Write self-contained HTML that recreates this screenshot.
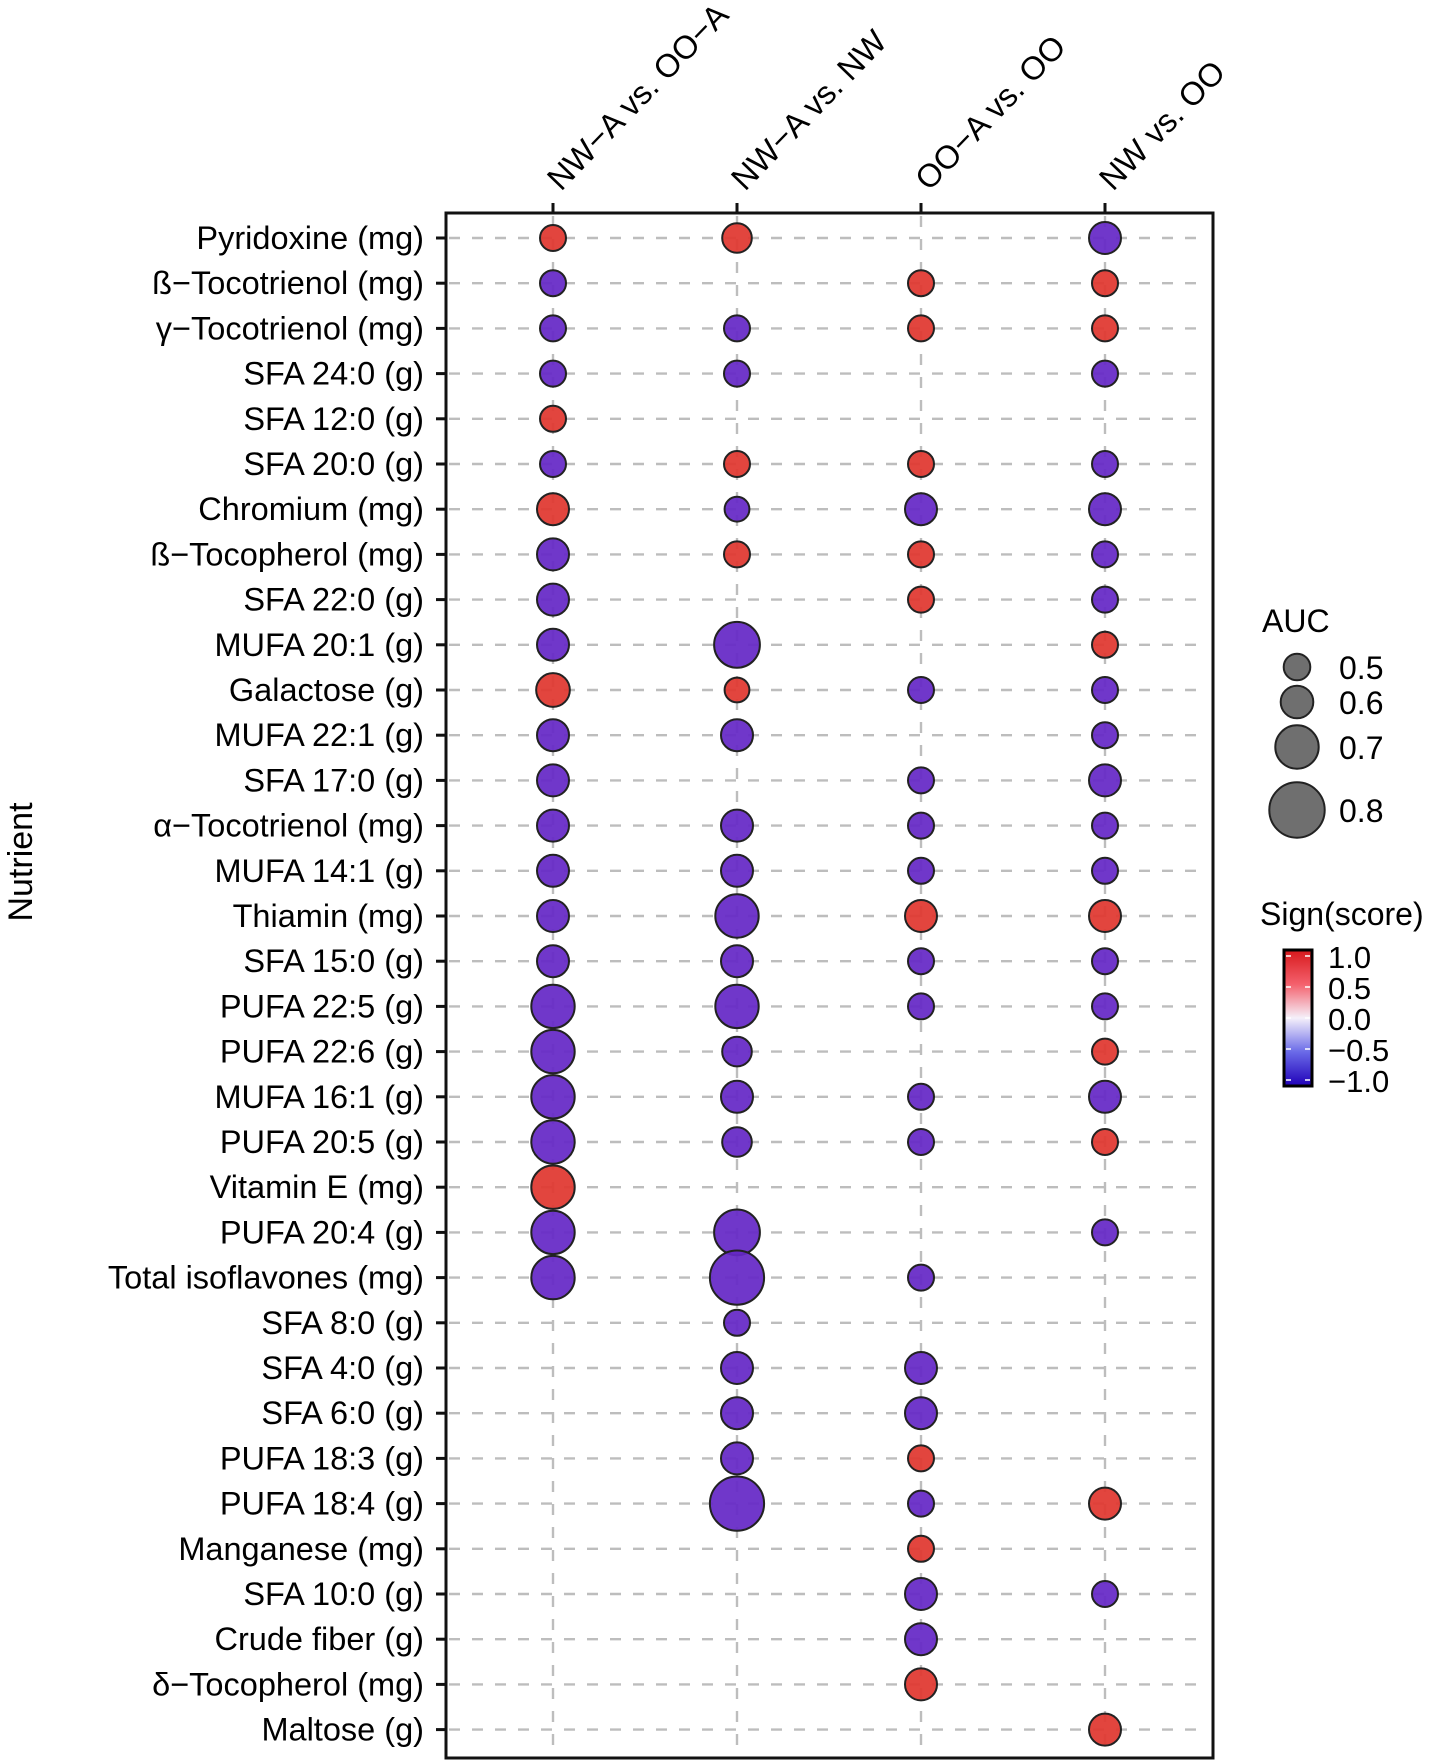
<!DOCTYPE html>
<html><head><meta charset="utf-8"><title>Nutrient AUC bubble chart</title>
<style>
html,body{margin:0;padding:0;background:#fff;}
svg{display:block;font-family:"Liberation Sans",Arial,sans-serif;}
</style></head>
<body>
<svg id="chart" width="1430" height="1764" viewBox="0 0 1430 1764" xmlns="http://www.w3.org/2000/svg">
  <g id="grid"></g>
  <g id="points"></g>
  <rect x="446" y="213" width="767" height="1545" fill="none" stroke="#111" stroke-width="3"/>
  <g id="ylabels"></g>
  <g id="xlabels"></g>
  <text transform="translate(32,862) rotate(-90)" text-anchor="middle" font-size="34" fill="#000">Nutrient</text>
  <g id="legend-auc">
    <text x="1262" y="632" font-size="32">AUC</text>
  </g>
  <g id="legend-sign">
    <defs>
      <linearGradient id="cg" x1="0" y1="0" x2="0" y2="1">
        <stop offset="0" stop-color="#d7191c"/>
        <stop offset="0.25" stop-color="#f4606c"/>
        <stop offset="0.5" stop-color="#f5f0fa"/>
        <stop offset="0.75" stop-color="#6a6ae8"/>
        <stop offset="1" stop-color="#2000b8"/>
      </linearGradient>
    </defs>
    <text x="1260" y="925" font-size="32">Sign(score)</text>
    <rect x="1284" y="950" width="28" height="136" fill="url(#cg)" stroke="#000" stroke-width="3"/>
  </g>
</svg>
<script>
const nutrients = ["Pyridoxine (mg)","ß\u2212Tocotrienol (mg)","γ\u2212Tocotrienol (mg)","SFA 24:0 (g)","SFA 12:0 (g)","SFA 20:0 (g)","Chromium (mg)","ß\u2212Tocopherol (mg)","SFA 22:0 (g)","MUFA 20:1 (g)","Galactose (g)","MUFA 22:1 (g)","SFA 17:0 (g)","α\u2212Tocotrienol (mg)","MUFA 14:1 (g)","Thiamin (mg)","SFA 15:0 (g)","PUFA 22:5 (g)","PUFA 22:6 (g)","MUFA 16:1 (g)","PUFA 20:5 (g)","Vitamin E (mg)","PUFA 20:4 (g)","Total isoflavones (mg)","SFA 8:0 (g)","SFA 4:0 (g)","SFA 6:0 (g)","PUFA 18:3 (g)","PUFA 18:4 (g)","Manganese (mg)","SFA 10:0 (g)","Crude fiber (g)","δ\u2212Tocopherol (mg)","Maltose (g)"];
const comparisons = ["NW\u2212A vs. OO\u2212A","NW\u2212A vs. NW","OO\u2212A vs. OO","NW vs. OO"];
// AUC per nutrient (null = not shown)
const aucC1 = [0.49,0.49,0.49,0.49,0.49,0.49,0.59,0.59,0.59,0.59,0.61,0.59,0.59,0.59,0.59,0.59,0.59,0.70,0.70,0.70,0.70,0.70,0.70,0.70,null,null,null,null,null,null,null,null,null,null];
const aucC2 = [0.55,null,0.49,0.49,null,0.49,0.47,0.49,null,0.72,0.47,0.59,null,0.59,0.59,0.70,0.59,0.70,0.55,0.59,0.55,null,0.72,0.79,0.49,0.59,0.59,0.59,0.79,null,null,null,null,null];
const aucC3 = [null,0.49,0.49,null,null,0.49,0.59,0.49,0.49,null,0.49,null,0.49,0.49,0.49,0.59,0.49,0.49,null,0.49,0.49,null,null,0.49,null,0.59,0.59,0.49,0.49,0.49,0.59,0.59,0.59,null];
const aucC4 = [0.59,0.49,0.49,0.49,null,0.49,0.59,0.49,0.49,0.49,0.49,0.49,0.59,0.49,0.49,0.59,0.49,0.49,0.49,0.59,0.49,null,0.49,null,null,null,null,null,0.59,null,0.49,null,null,0.59];
// sign of score (1 = positive, -1 = negative)
const signC1 = [1,-1,-1,-1,1,-1,1,-1,-1,-1,1,-1,-1,-1,-1,-1,-1,-1,-1,-1,-1,1,-1,-1,0,0,0,0,0,0,0,0,0,0];
const signC2 = [1,0,-1,-1,0,1,-1,1,0,-1,1,-1,0,-1,-1,-1,-1,-1,-1,-1,-1,0,-1,-1,-1,-1,-1,-1,-1,0,0,0,0,0];
const signC3 = [0,1,1,0,0,1,-1,1,1,0,-1,0,-1,-1,-1,1,-1,-1,0,-1,-1,0,0,-1,0,-1,-1,1,-1,1,-1,-1,1,0];
const signC4 = [-1,1,1,-1,0,-1,-1,-1,-1,1,-1,-1,-1,-1,-1,1,-1,-1,1,-1,1,0,-1,0,0,0,0,0,1,0,-1,0,0,1];
const legendAuc = [0.5,0.6,0.7,0.8];
const colorTicks = [1.0,0.5,0.0,-0.5,-1.0];
const colorTickLabels = ["1.0","0.5","0.0","\u22120.5","\u22121.0"];

const NS = "http://www.w3.org/2000/svg";
const colX0 = 553, colStep = 184;
const rowY0 = 238, rowStep = 45.2;
const xScale = i => colX0 + i * colStep;
const yScale = i => rowY0 + i * rowStep;
const sizeDom = [0.5,0.6,0.7,0.8], sizeRng = [13.3,16.3,21.7,27.7];
function rScale(a){
  if (a <= sizeDom[0]) return sizeRng[0] + (a - sizeDom[0]) * (sizeRng[1]-sizeRng[0]) / 0.1;
  for (let k = 0; k < sizeDom.length - 1; k++) {
    if (a <= sizeDom[k+1]) return sizeRng[k] + (a - sizeDom[k]) / (sizeDom[k+1]-sizeDom[k]) * (sizeRng[k+1]-sizeRng[k]);
  }
  return sizeRng[3] + (a - 0.8) * 60;
}
const colorFor = s => s > 0 ? "#e0372f" : "#6528c6";
const cbTop = 956, cbBot = 1080;
const cbScale = v => cbTop + (1 - v) / 2 * (cbBot - cbTop);

function mk(tag, attrs, parent){
  const e = document.createElementNS(NS, tag);
  for (const k in attrs) e.setAttribute(k, attrs[k]);
  parent.appendChild(e);
  return e;
}
const grid = document.getElementById("grid");
const pts = document.getElementById("points");
const ylab = document.getElementById("ylabels");
const xlab = document.getElementById("xlabels");

nutrients.forEach((n, i) => {
  const y = yScale(i);
  const g = mk("line", {x1: 449, x2: 1205, y1: y, y2: y, stroke: "#bdbdbd", "stroke-width": 2.4, "stroke-dasharray": "11 12"}, grid);
  
  
  const t = mk("line", {x1: 436, x2: 446, y1: y, y2: y, stroke: "#111", "stroke-width": 3}, ylab);
  
  
  const tx = mk("text", {x: 424, y: y + 11, "text-anchor": "end", "font-size": 32.5}, ylab);
  tx.textContent = n;
  
  
});

comparisons.forEach((c, j) => {
  const x = xScale(j);
  const g = mk("line", {x1: x, x2: x, y1: 216, y2: 1756, stroke: "#bdbdbd", "stroke-width": 2.4, "stroke-dasharray": "11 12"}, grid);
  
  
  const t = mk("line", {x1: x, x2: x, y1: 203, y2: 213, stroke: "#111", "stroke-width": 3}, xlab);
  
  
  const tx = mk("text", {transform: "translate(" + (x + 8) + ",192) rotate(-46)", "font-size": 32.5}, xlab);
  tx.textContent = c;
  
  
});

const aucCols = [aucC1, aucC2, aucC3, aucC4];
const signCols = [signC1, signC2, signC3, signC4];
aucCols.forEach((col, j) => {
  col.forEach((a, i) => {
    if (a === null) return;
    const c = mk("circle", {cx: xScale(j), cy: yScale(i), r: rScale(a), fill: colorFor(signCols[j][i]), "fill-opacity": 0.93, stroke: "#222", "stroke-width": 2}, pts);
    
    
  });
});

const la = document.getElementById("legend-auc");
const legY = [667, 702, 747, 810];
legendAuc.forEach((a, k) => {
  const c = mk("circle", {cx: 1297, cy: legY[k], r: rScale(a), fill: "#6f6f6f", stroke: "#222", "stroke-width": 2}, la);
  
  
  const t = mk("text", {x: 1339, y: legY[k] + 12, "font-size": 32}, la);
  t.textContent = a.toFixed(1);
  
  
});

const ls = document.getElementById("legend-sign");
colorTicks.forEach((v, k) => {
  const y = cbScale(v);
  const t1 = mk("line", {x1: 1286, x2: 1291, y1: y, y2: y, stroke: "#fff", "stroke-width": 1.5}, ls);
  
  
  const t2 = mk("line", {x1: 1305, x2: 1310, y1: y, y2: y, stroke: "#fff", "stroke-width": 1.5}, ls);
  
  
  const t = mk("text", {x: 1328, y: y + 12, "font-size": 31}, ls);
  t.textContent = colorTickLabels[k];
  
  
});
</script>
</body></html>
